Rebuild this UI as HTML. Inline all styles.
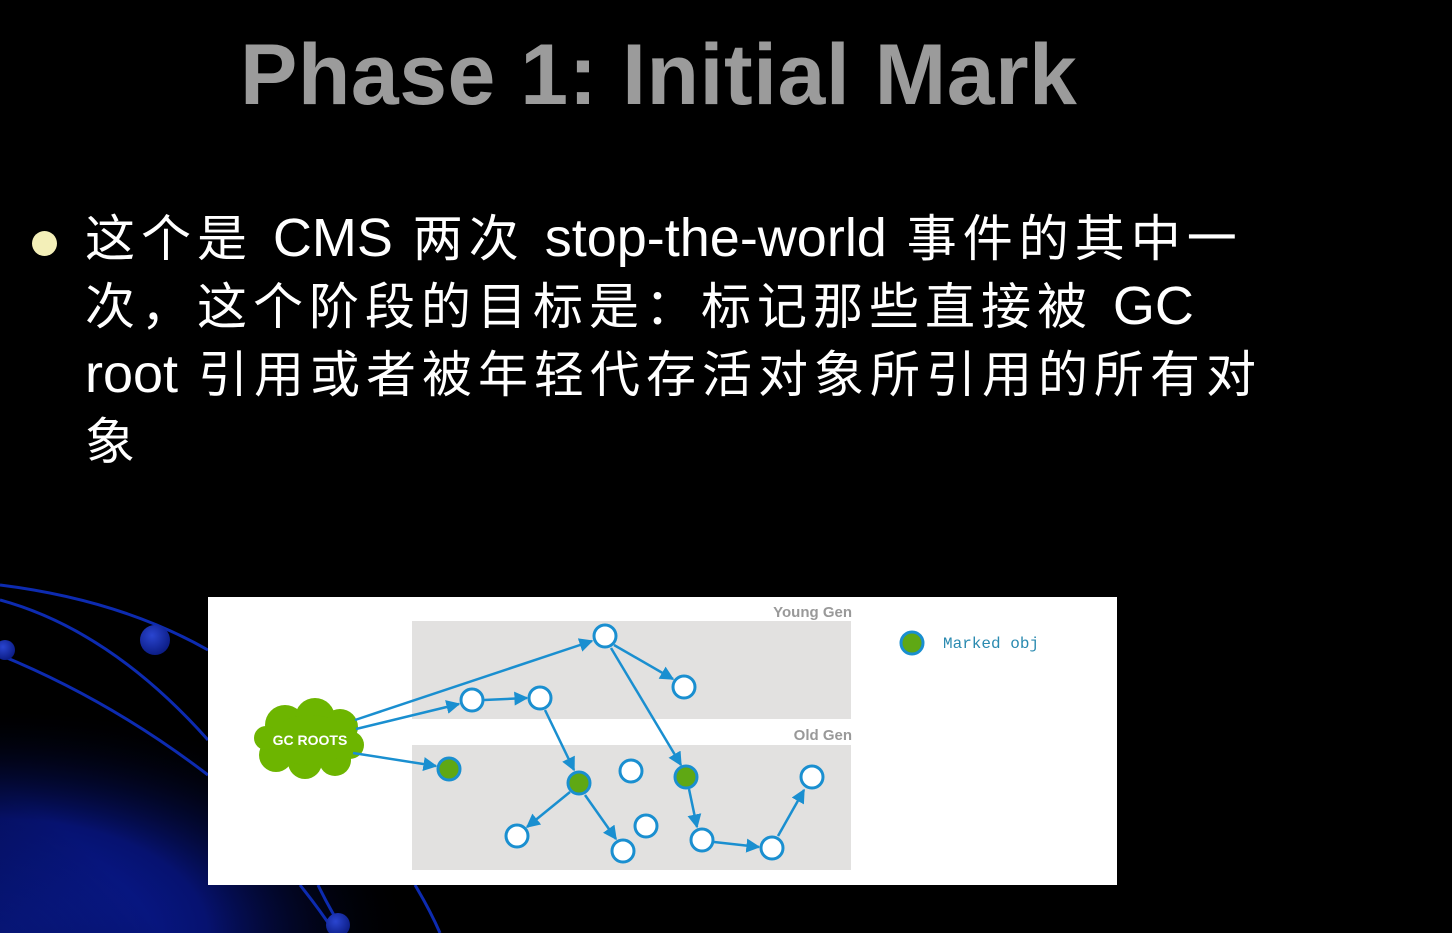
<!DOCTYPE html>
<html><head><meta charset="utf-8"><style>
html,body{margin:0;padding:0;background:#000;width:1452px;height:933px;overflow:hidden;position:relative}
.t{position:absolute;left:240px;top:26px;font:bold 86px "Liberation Sans",sans-serif;color:#9b9b9b;white-space:nowrap;letter-spacing:0.5px}
.b{position:absolute;left:85px;top:205px;width:1300px;font:50px/67px "Liberation Sans","Noto Sans CJK SC",sans-serif;color:#fff;white-space:nowrap;letter-spacing:6px}
.b span{letter-spacing:0;font-size:54px}
.dot{position:absolute;left:32px;top:231px;width:25px;height:25px;border-radius:50%;background:#f3efb8}
</style></head><body>
<svg width="1452" height="933" style="position:absolute;left:0;top:0">
<defs>
<radialGradient id="g" cx="0" cy="1" r="0.9">
<stop offset="0" stop-color="#0a1fa8"/><stop offset="0.5" stop-color="#061270"/><stop offset="1" stop-color="#000" stop-opacity="0"/>
</radialGradient>
<radialGradient id="s" cx="0.4" cy="0.35" r="0.7"><stop offset="0" stop-color="#2a45d0"/><stop offset="1" stop-color="#0a1a80"/></radialGradient>
</defs>
<rect x="0" y="680" width="460" height="253" fill="url(#g)"/>
<ellipse cx="0" cy="933" rx="330" ry="300" fill="url(#g)"/>
<g fill="none" stroke="#0d2bb0" stroke-width="3">
<path d="M0 585 Q120 600 208 650"/>
<path d="M0 600 Q110 630 208 740"/>
<path d="M0 655 Q110 700 208 775"/>
<path d="M300 885 Q320 910 335 933"/>
<path d="M318 885 Q330 910 345 933"/>
<path d="M415 885 Q430 910 440 933"/>
</g>
<circle cx="155" cy="640" r="15" fill="url(#s)"/>
<circle cx="5" cy="650" r="10" fill="url(#s)"/>
<circle cx="338" cy="925" r="12" fill="url(#s)"/>
</svg>
<div class="t">Phase 1: Initial Mark</div>
<div class="dot"></div>
<div class="b">这个是 <span>CMS</span> 两次 <span>stop-the-world</span> 事件的其中一<br>次，这个阶段的目标是：标记那些直接被 <span>GC</span><br><span>root</span> 引用或者被年轻代存活对象所引用的所有对<br>象</div>
<svg width="1452" height="933" style="position:absolute;left:0;top:0">
<defs>
<marker id="m" viewBox="0 0 10 10" markerWidth="14" markerHeight="14" refX="9" refY="5" orient="auto" markerUnits="userSpaceOnUse"><path d="M0 0L10 5L0 10Z" fill="#1a8fd0"/></marker></defs>
<rect x="208" y="597" width="909" height="288" fill="#fff"/>
<rect x="412" y="621" width="439" height="98" fill="#e2e1e0"/>
<rect x="412" y="745" width="439" height="125" fill="#e2e1e0"/>
<text x="852" y="617" text-anchor="end" font-family="Liberation Sans" font-weight="bold" font-size="15" fill="#999">Young Gen</text>
<text x="852" y="740" text-anchor="end" font-family="Liberation Sans" font-weight="bold" font-size="15" fill="#999">Old Gen</text>
<g fill="#6db500">
<circle cx="285" cy="725" r="20"/><circle cx="315" cy="718" r="20"/><circle cx="340" cy="727" r="18"/>
<circle cx="350" cy="745" r="14"/><circle cx="335" cy="760" r="16"/><circle cx="305" cy="762" r="17"/>
<circle cx="276" cy="755" r="17"/><circle cx="266" cy="738" r="12"/><ellipse cx="310" cy="740" rx="40" ry="25"/>
</g>
<text x="310" y="745" text-anchor="middle" font-family="Liberation Sans" font-weight="bold" font-size="14" fill="#fff">GC ROOTS</text>
<g stroke="#1a8fd0" stroke-width="2.5" fill="none" marker-end="url(#m)">
<line x1="355" y1="720" x2="592" y2="641"/>
<line x1="356" y1="729" x2="459" y2="704"/>
<line x1="353" y1="753" x2="436" y2="766"/>
<line x1="484" y1="700" x2="527" y2="698"/>
<line x1="545" y1="710" x2="574" y2="770"/>
<line x1="614" y1="645" x2="673" y2="679"/>
<line x1="611" y1="648" x2="681" y2="765"/>
<line x1="570" y1="792" x2="527" y2="827"/>
<line x1="585" y1="795" x2="616" y2="839"/>
<line x1="689" y1="789" x2="697" y2="827"/>
<line x1="714" y1="842" x2="759" y2="847"/>
<line x1="778" y1="836" x2="804" y2="790"/>
</g>
<g stroke="#1a8fd0" stroke-width="3" fill="#fff">
<circle cx="605" cy="636" r="11"/><circle cx="684" cy="687" r="11"/><circle cx="472" cy="700" r="11"/><circle cx="540" cy="698" r="11"/>
<circle cx="631" cy="771" r="11"/><circle cx="812" cy="777" r="11"/><circle cx="517" cy="836" r="11"/><circle cx="623" cy="851" r="11"/>
<circle cx="646" cy="826" r="11"/><circle cx="702" cy="840" r="11"/><circle cx="772" cy="848" r="11"/>
</g>
<g stroke="#1a8fd0" stroke-width="3" fill="#5fa814">
<circle cx="449" cy="769" r="11"/><circle cx="579" cy="783" r="11"/><circle cx="686" cy="777" r="11"/><circle cx="912" cy="643" r="11"/>
</g>
<text x="943" y="648" font-family="Liberation Mono" font-size="16" fill="#2a8ab0">Marked obj</text>
</svg>
</body></html>
